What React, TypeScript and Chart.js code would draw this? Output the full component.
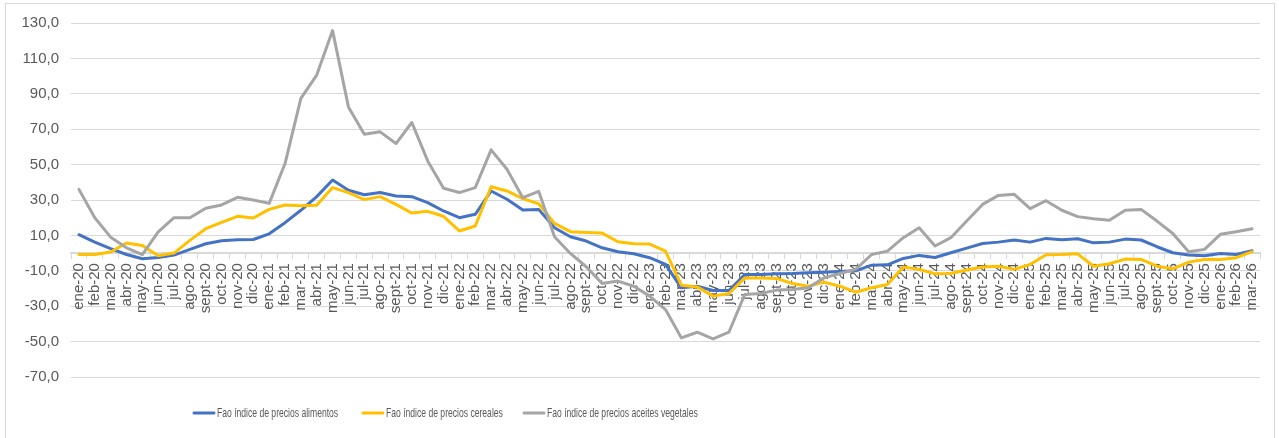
import { useEffect, useRef } from "react";
import { Chart, registerables } from "chart.js";

Chart.register(...registerables);

const months: string[] = [
  "ene-20", "feb-20", "mar-20", "abr-20", "may-20", "jun-20", "jul-20", "ago-20", "sept-20", "oct-20", "nov-20", "dic-20",
  "ene-21", "feb-21", "mar-21", "abr-21", "may-21", "jun-21", "jul-21", "ago-21", "sept-21", "oct-21", "nov-21", "dic-21",
  "ene-22", "feb-22", "mar-22", "abr-22", "may-22", "jun-22", "jul-22", "ago-22", "sept-22", "oct-22", "nov-22", "dic-22",
  "ene-23", "feb-23", "mar-23", "abr-23", "may-23", "jun-23", "jul-23", "ago-23", "sept-23", "oct-23", "nov-23", "dic-23",
  "ene-24", "feb-24", "mar-24", "abr-24", "may-24", "jun-24", "jul-24", "ago-24", "sept-24", "oct-24", "nov-24", "dic-24",
  "ene-25", "feb-25", "mar-25", "abr-25", "may-25", "jun-25", "jul-25", "ago-25", "sept-25", "oct-25", "nov-25", "dic-25",
  "ene-26", "feb-26", "mar-26",
];

const alimentos: number[] = [
  10.4, 6.2, 2.5, -0.8, -3.2, -2.5, -1.1, 2.1, 5.3, 7.0, 7.5, 7.7,
  10.9, 17.2, 24.2, 31.9, 41.3, 35.5, 33.0, 34.2, 32.3, 31.9, 28.5, 23.8,
  20.0, 21.9, 35.1, 30.4, 24.3, 24.7, 14.3, 9.2, 6.8, 3.0, 0.8, -0.4,
  -2.6, -6.4, -19.6, -18.7, -21.1, -21.1, -12.1, -12.1, -11.7, -11.5, -11.1, -10.8,
  -10.4, -10.0, -6.8, -6.6, -3.0, -1.3, -2.5, 0.2, 2.8, 5.4, 6.2, 7.4,
  6.2, 8.3, 7.5, 8.1, 5.8, 6.2, 7.9, 7.4, 3.6, 0.2, -1.1, -1.5,
  -0.2, -0.8, 1.3,
];

const cereales: number[] = [
  -0.8, -0.8, 0.6, 5.7, 4.3, -1.5, 0.0, 7.2, 13.8, 17.4, 20.8, 19.8,
  24.7, 27.2, 26.8, 27.0, 37.0, 34.2, 30.2, 31.9, 27.5, 22.6, 23.6, 20.8,
  12.5, 15.3, 37.5, 35.1, 30.8, 27.9, 16.8, 12.1, 11.7, 11.3, 6.4, 5.3,
  5.1, 1.1, -18.1, -19.1, -24.3, -22.8, -14.0, -14.0, -14.3, -17.2, -18.7, -16.4,
  -18.7, -22.1, -19.6, -17.7, -7.9, -9.2, -11.7, -11.5, -9.6, -7.8, -7.4, -9.2,
  -6.4, -0.9, -0.8, -0.4, -7.4, -6.0, -3.4, -3.6, -7.4, -8.9, -5.1, -3.6,
  -3.6, -2.6, 0.8,
];

const aceites: number[] = [
  36.0, 20.0, 9.0, 3.0, -0.8, 12.0, 20.0, 20.0, 25.3, 27.2, 31.5, 30.0,
  28.1, 50.6, 87.4, 100.6, 125.7, 82.6, 67.2, 68.5, 61.9, 73.8, 52.1, 36.6,
  34.2, 37.0, 58.3, 47.4, 31.3, 34.9, 9.2, -0.2, -7.7, -17.2, -15.8, -18.7,
  -24.3, -31.9, -47.9, -44.7, -48.5, -44.7, -23.4, -22.8, -20.9, -20.6, -19.6, -14.0,
  -11.5, -9.2, -0.8, 1.1, 8.7, 14.3, 4.0, 8.7, 18.1, 27.5, 32.6, 33.2,
  25.1, 29.6, 24.2, 20.6, 19.4, 18.5, 24.2, 24.7, 18.1, 11.1, 0.8, 2.1,
  10.6, 12.1, 13.8,
];

const seriesNames: string[] = [
  "Fao índice de precios alimentos",
  "Fao índice de precios cereales",
  "Fao índice de precios aceites vegetales",
];

const seriesColors: string[] = ["#4472C4", "#FFC000", "#A5A5A5"];

const Y_MIN = -70;
const Y_MAX = 130;
const Y_STEP = 20;

const FONT = "'Liberation Sans', Arial, sans-serif";
const TEXT_COLOR = "#595959";
const GRID_COLOR = "#D9D9D9";

const frameAndLegend = {
  id: "frameAndLegend",
  beforeDraw(chart: any) {
    const ctx = chart.ctx;
    ctx.save();
    ctx.fillStyle = "#ffffff";
    ctx.fillRect(0, 0, chart.width, chart.height);
    ctx.restore();
  },
  afterDraw(chart: any) {
    const ctx = chart.ctx;
    ctx.save();
    ctx.strokeStyle = GRID_COLOR;
    ctx.lineWidth = 1;
    ctx.strokeRect(5.5, 3.5, 1269, 440);

    const legendY = 413;
    const starts = [193, 362, 523];
    chart.data.datasets.forEach((ds: any, i: number) => {
      const x0 = starts[i];
      ctx.strokeStyle = ds.borderColor;
      ctx.lineWidth = 3;
      ctx.lineCap = "round";
      ctx.beginPath();
      ctx.moveTo(x0 + 1, legendY);
      ctx.lineTo(x0 + 21, legendY);
      ctx.stroke();

      ctx.save();
      ctx.translate(x0 + 24, legendY + 0.5);
      ctx.scale(0.66, 1);
      ctx.fillStyle = TEXT_COLOR;
      ctx.font = `13px ${FONT}`;
      ctx.textBaseline = "middle";
      ctx.textAlign = "left";
      ctx.fillText(ds.label, 0, 0);
      ctx.restore();
    });
    ctx.restore();
  },
};

export default function App() {
  const canvasRef = useRef<HTMLCanvasElement | null>(null);

  useEffect(() => {
    if (!canvasRef.current) return;
    const data = [alimentos, cereales, aceites];
    const chart = new Chart(canvasRef.current, {
      type: "line",
      data: {
        labels: months,
        datasets: data.map((d, i) => ({
          label: seriesNames[i],
          data: d,
          borderColor: seriesColors[i],
          backgroundColor: seriesColors[i],
          borderWidth: 3,
          pointRadius: 0,
          pointHoverRadius: 0,
          tension: 0,
          fill: false,
          borderJoinStyle: "round" as const,
          borderCapStyle: "round" as const,
          order: 2 - i,
        })),
      },
      options: {
        responsive: false,
        animation: false,
        devicePixelRatio: 1,
        layout: {
          padding: { left: 0, top: 23, right: 19, bottom: 61 },
        },
        plugins: {
          legend: { display: false },
          tooltip: { enabled: false },
        },
        scales: {
          x: {
            type: "category",
            position: { y: 0 } as any,
            offset: true,
            grid: {
              display: true,
              drawOnChartArea: false,
              drawTicks: true,
              tickLength: 5,
              color: GRID_COLOR,
              offset: true,
            },
            border: { display: true, color: GRID_COLOR, width: 2 },
            ticks: {
              autoSkip: false,
              minRotation: 90,
              maxRotation: 90,
              padding: 5,
              color: TEXT_COLOR,
              font: { family: FONT, size: 15 },
            },
          },
          y: {
            min: Y_MIN,
            max: Y_MAX,
            afterFit: (scale: any) => {
              scale.width = 71;
            },
            grid: {
              color: GRID_COLOR,
              lineWidth: 1,
              drawTicks: false,
            },
            border: { display: false },
            ticks: {
              stepSize: Y_STEP,
              padding: 12,
              color: TEXT_COLOR,
              font: { family: FONT, size: 15 },
              callback: (v: any) => Number(v).toFixed(1).replace(".", ","),
            },
          },
        },
      },
      plugins: [frameAndLegend],
    });
    return () => chart.destroy();
  }, []);

  return (
    <div style={{ position: "fixed", left: 0, top: 0, width: 1279, height: 438, background: "#fff" }}>
      <canvas ref={canvasRef} width={1279} height={438} style={{ display: "block", width: 1279, height: 438 }} />
    </div>
  );
}
